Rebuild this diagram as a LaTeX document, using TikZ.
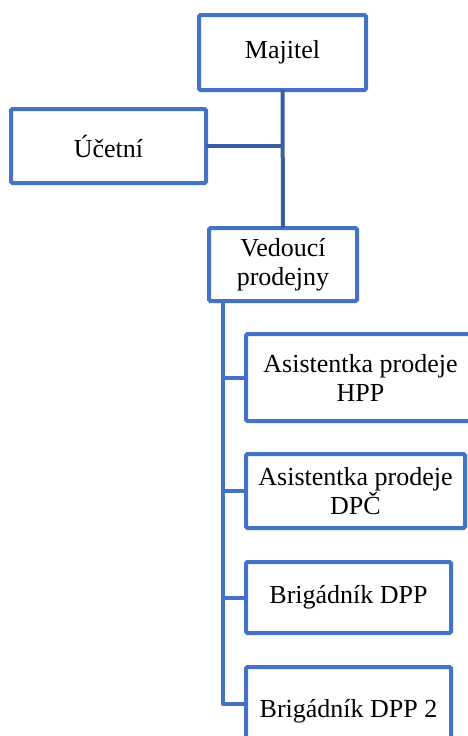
\documentclass[tikz,border=0pt]{standalone}
\usepackage{fontspec}
\setmainfont{Liberation Serif}
\definecolor{boxblue}{HTML}{4472C4}
\definecolor{linkblue}{HTML}{3A5EA2}
\begin{document}
\begin{tikzpicture}[x=1pt,y=-1pt,
  orgbox/.style={draw=boxblue, line width=4pt, rounded corners=1.5pt, fill=white,
    inner sep=0pt, outer sep=0pt, align=center,
    font=\fontsize{26}{29}\selectfont},
  toplink/.style={draw=linkblue, line width=4pt},
  sublink/.style={draw=boxblue, line width=4pt, line join=round}]
\clip (0,0) rectangle (468,736);
\fill[white] (0,0) rectangle (468,736);
\node[orgbox, minimum width=167pt, minimum height=75pt] (maj) at (282.5,52.5) {Majitel};
\node[orgbox, minimum width=195pt, minimum height=74pt] (uc) at (108.5,146) {Účetní};
\node[orgbox, minimum width=148pt, minimum height=73pt] (ved) at (283,264.5) {Vedoucí\\prodejny};
\node[orgbox, minimum width=229pt, minimum height=87pt] (hpp) at (360.5,377.5) {Asistentka prodeje\\HPP};
\node[orgbox, minimum width=219pt, minimum height=74pt] (dpc) at (355.5,491) {Asistentka prodeje\\DPČ};
\node[orgbox, minimum width=205pt, minimum height=71pt] (dpp) at (348.5,597.5) {Brigádník DPP};
\node[orgbox, minimum width=205pt, minimum height=88pt] (dpp2) at (348.5,711) {Brigádník DPP 2};
\coordinate (trunk) at (283,146);
\coordinate (spine) at (223,303);
\coordinate (dpp2in) at (246,704);
\draw[toplink] (maj.south) -- (ved.north);
\draw[toplink] (uc.east) -- (trunk);
\draw[sublink] (spine) |- (dpp2in);
\draw[sublink] (spine |- hpp.west) -- (hpp.west);
\draw[sublink] (spine |- dpc.west) -- (dpc.west);
\draw[sublink] (spine |- dpp.west) -- (dpp.west);
\end{tikzpicture}
\end{document}
